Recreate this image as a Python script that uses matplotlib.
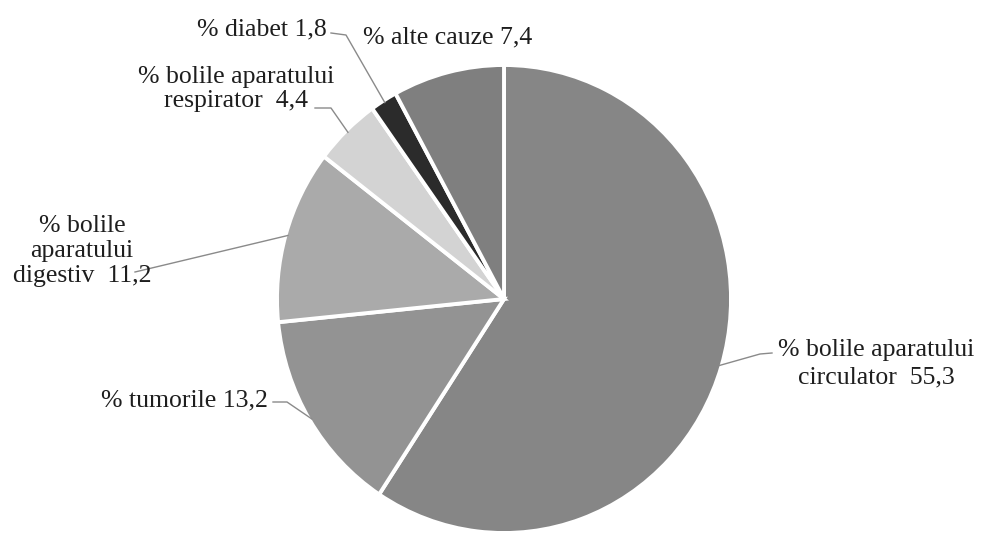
import numpy as np
import matplotlib
matplotlib.use("Agg")
import matplotlib.pyplot as plt

# ---- data ----
labels = ["% bolile aparatului\ncirculator  55,3", "% tumorile 13,2",
          "% bolile\naparatului\ndigestiv  11,2", "% bolile aparatului\nrespirator  4,4",
          "% diabet 1,8", "% alte cauze 7,4"]
values = [55.3, 13.2, 11.2, 4.4, 1.8, 7.4]
colors = ["#868686", "#939393", "#aaaaaa", "#d3d3d3", "#2b2b2b", "#7f7f7f"]

W, H = 982, 535
fig = plt.figure(figsize=(W / 100, H / 100), dpi=100)
fig.patch.set_facecolor("white")

cx, cy, rx, ry = 504, 299, 227, 234  # pixel layout (y from top)
ax = fig.add_axes([(cx - rx) / W, 1 - (cy + ry) / H, 2 * rx / W, 2 * ry / H])

wedges, _ = ax.pie(values, colors=colors, startangle=90, counterclock=False,
                   radius=1, center=(0, 0), frame=True,
                   wedgeprops=dict(edgecolor="white", linewidth=2.8))
ax.set_xlim(-1, 1)
ax.set_ylim(-1, 1)
ax.set_aspect("auto")
ax.axis("off")

font = dict(family="Liberation Serif", fontsize=18.5, color="#1e1e1e")

def fx(x):
    return x / W

def fy(y):
    return 1 - y / H

# text layout: (x, y, ha, linespacing, leader path points in pixels)
text_pos = [
    (876, 364, "center", 1.3, [(772, 353), (760, 354)]),
    (268, 400, "right", 1.2, [(273, 402), (287, 402)]),
    (82, 251, "center", 1.15, [(135, 272)]),
    (236, 89, "center", 1.15, [(315, 108), (331, 108)]),
    (327, 29, "right", 1.2, [(331, 33), (346, 35)]),
    (448, 37, "center", 1.2, None),
]

fig.canvas.draw()
for w, lab, (tx, ty, ha, ls, lead) in zip(wedges, labels, text_pos):
    fig.text(fx(tx), fy(ty), lab, ha=ha, va="center", linespacing=ls,
             multialignment="center", **font)
    if lead is not None:
        mid = np.deg2rad((w.theta1 + w.theta2) / 2)
        px, py = ax.transData.transform((0.99 * np.cos(mid), 0.99 * np.sin(mid)))
        xs = [fx(p[0]) for p in lead] + [px / W]
        ys = [fy(p[1]) for p in lead] + [py / H]
        fig.add_artist(plt.Line2D(xs, ys, transform=fig.transFigure,
                                  color="#8a8a8a", lw=1.0))

fig.savefig("out.png", dpi=100, facecolor="white")
